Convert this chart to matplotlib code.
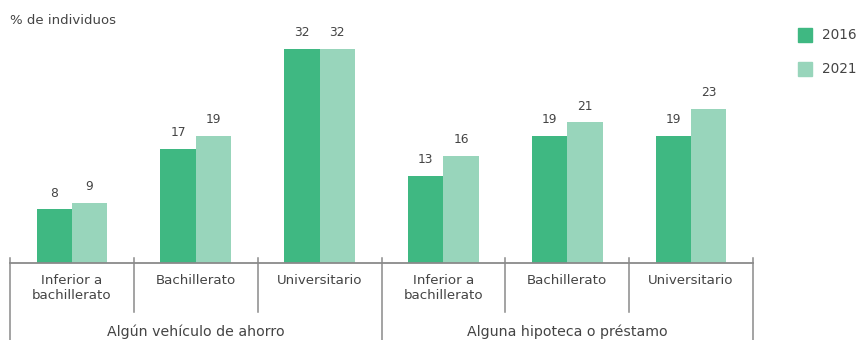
import matplotlib.pyplot as plt
import numpy as np

plt.rcParams['font.family'] = ['DejaVu Sans']

# datos
categorias = ['Inferior a\nbachillerato', 'Bachillerato', 'Universitario',
              'Inferior a\nbachillerato', 'Bachillerato', 'Universitario']
grupos = ['Algún vehículo de ahorro', 'Alguna hipoteca o préstamo']
valores_2016 = [8, 17, 32, 13, 19, 19]
valores_2021 = [9, 19, 32, 16, 21, 23]
series = ['2016', '2021']

c_2016 = '#3fb882'
c_2021 = '#98d5bb'
gris = '#444444'
linea = '#8a8a8a'

fig = plt.figure(figsize=(8.6, 3.4), dpi=100)
ax = fig.add_axes([10 / 860, 1 - 263 / 340, 743 / 860, 243 / 340])

x = np.arange(len(categorias)) + 0.5
w = 0.285

b1 = ax.bar(x - w / 2, valores_2016, w, color=c_2016)
b2 = ax.bar(x + w / 2, valores_2021, w, color=c_2021)

for barras in (b1, b2):
    for b in barras:
        ax.annotate(f'{b.get_height():.0f}', (b.get_x() + b.get_width() / 2, b.get_height()),
                    xytext=(0, 7), textcoords='offset points',
                    ha='center', va='bottom', fontsize=8.8, color=gris)

ax.set_xlim(0, len(categorias))
ax.set_ylim(0, 36.3)
ax.axis('off')

# línea base
ax.plot([0, len(categorias)], [0, 0], color=linea, lw=1.3, clip_on=False)

# separadores entre categorías y grupos
trans = ax.get_xaxis_transform()
for i in range(len(categorias) + 1):
    y_fin = -0.317 if i % 3 == 0 else -0.20
    ax.plot([i, i], [0.02, y_fin], color=linea, lw=1.1, transform=trans, clip_on=False)

for xi, cat in zip(x, categorias):
    ax.text(xi, -0.045, cat, transform=trans, ha='center', va='top',
            fontsize=9.6, color=gris, linespacing=1.2)

for g, nombre in enumerate(grupos):
    ax.text(1.5 + 3 * g, -0.284, nombre, transform=trans, ha='center', va='center',
            fontsize=10.2, color=gris)

fig.text(10 / 860, 1 - 20 / 340, '% de individuos', ha='left', va='center',
         fontsize=9.5, color=gris)

# leyenda
for k, (s, c) in enumerate(zip(series, [c_2016, c_2021])):
    y = 1 - (35 + 34 * k) / 340
    fig.patches.append(plt.Rectangle((798 / 860, y - 7 / 340), 14 / 860, 14 / 340,
                                     transform=fig.transFigure, color=c))
    fig.text(822 / 860, y, s, ha='left', va='center', fontsize=9.8, color=gris)

fig.savefig('out.png', dpi=100, facecolor='white')
